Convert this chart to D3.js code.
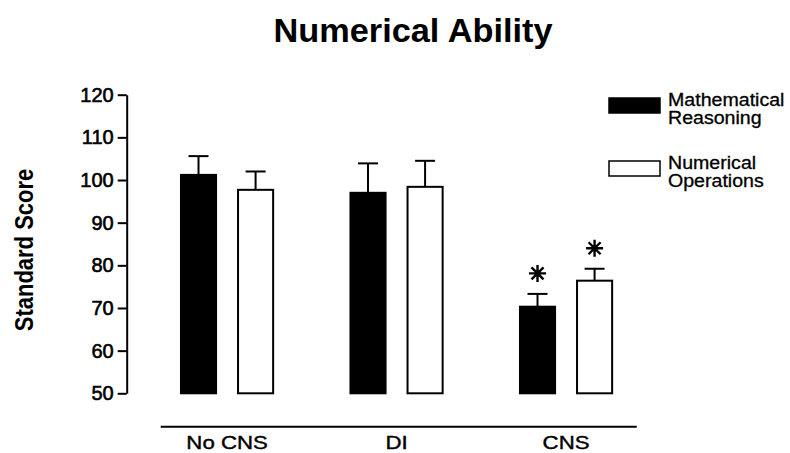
<!DOCTYPE html>
<html>
<head>
<meta charset="utf-8">
<script src="https://cdn.jsdelivr.net/npm/d3@7"></script>
<style>
  html, body { margin: 0; padding: 0; background: #fff; }
  svg { display: block; }
  text { font-family: "Liberation Sans", Arial, Helvetica, sans-serif; fill: #000; }
</style>
</head>
<body>
<svg id="chart" width="790" height="453"></svg>
<script>
// Groups along the x axis and the two measured scores
const groups = ["No CNS", "DI", "CNS"];
const seriesNames = ["Mathematical Reasoning", "Numerical Operations"];
const legendLines = [["Mathematical", "Reasoning"], ["Numerical", "Operations"]];

// Mean standard scores and standard errors per group
const mathMeans = [101.2, 97.0, 70.3];
const mathSE = [4.4, 6.9, 3.0];
const numMeans = [97.7, 98.4, 76.4];
const numSE = [4.3, 6.1, 2.8];

// Significant differences flagged with an asterisk
const mathSig = [false, false, true];
const numSig = [false, false, true];

const yTicks = [50, 60, 70, 80, 90, 100, 110, 120];
const yDomain = [50, 120];

const fills = ["#000", "#fff"];

const rows = [];
groups.forEach((g, i) => {
  rows.push({ group: g, series: seriesNames[0], mean: mathMeans[i], se: mathSE[i], sig: mathSig[i] });
  rows.push({ group: g, series: seriesNames[1], mean: numMeans[i], se: numSE[i], sig: numSig[i] });
});

const svg = d3.select("#chart");

const y = d3.scaleLinear().domain(yDomain).range([393.3, 94.7]);
const x0 = d3.scaleBand().domain(groups).range([142.3, 650.8]).paddingInner(0).paddingOuter(0);
const x1 = d3.scaleBand().domain(seriesNames).range([0, x0.bandwidth()])
  .paddingInner(0.35).paddingOuter(0.66);
const color = d3.scaleOrdinal().domain(seriesNames).range(fills);

// Title
svg.append("text")
  .attr("transform", "translate(413,41.5) scale(1.04,1)")
  .attr("text-anchor", "middle")
  .style("font-size", "33px").style("font-weight", "bold")
  .text("Numerical Ability");

// Y axis title
svg.append("text")
  .attr("transform", "translate(33,250) scale(1.2,1) rotate(-90)")
  .attr("text-anchor", "middle")
  .style("font-size", "22px").style("font-weight", "bold")
  .text("Standard Score");

// Y axis
const yAxis = svg.append("g")
  .attr("transform", "translate(126.7,0)")
  .call(d3.axisLeft(y).tickValues(yTicks).tickSize(9).tickSizeOuter(0).tickPadding(4));
yAxis.select(".domain").attr("stroke", "#000").attr("stroke-width", 2);
yAxis.selectAll(".tick line").attr("stroke", "#000").attr("stroke-width", 2);
yAxis.selectAll(".tick text")
  .style("font-size", "20px")
  .style("font-family", "'Liberation Sans', Arial, sans-serif")
  .attr("fill", "#000")
  .attr("stroke", "#000").attr("stroke-width", 0.6);

// X axis baseline and group labels
svg.append("line")
  .attr("x1", 160.7).attr("x2", 636.7)
  .attr("y1", 426.7).attr("y2", 426.7)
  .attr("stroke", "#000").attr("stroke-width", 2);

svg.append("g").selectAll("text")
  .data(groups).join("text")
  .attr("transform", d => `translate(${x0(d) + x0.bandwidth() / 2},448.5) scale(1.2,1)`)
  .attr("text-anchor", "middle")
  .style("font-size", "18.5px")
  .attr("stroke", "#000").attr("stroke-width", 0.4)
  .text(d => d);

// Bars
const bx = d => x0(d.group) + x1(d.series);
const bars = svg.append("g");
bars.selectAll("rect")
  .data(rows).join("rect")
  .attr("x", d => bx(d) + 1)
  .attr("width", x1.bandwidth() - 2)
  .attr("y", d => y(d.mean))
  .attr("height", d => y(yDomain[0]) - y(d.mean))
  .attr("fill", d => color(d.series))
  .attr("stroke", "#000").attr("stroke-width", 2);

// Error bars (upper only) with caps
const err = svg.append("g").attr("stroke", "#000").attr("stroke-width", 2);
err.selectAll("line.stem")
  .data(rows).join("line").attr("class", "stem")
  .attr("x1", d => bx(d) + x1.bandwidth() / 2)
  .attr("x2", d => bx(d) + x1.bandwidth() / 2)
  .attr("y1", d => y(d.mean))
  .attr("y2", d => y(d.mean + d.se));
err.selectAll("line.cap")
  .data(rows).join("line").attr("class", "cap")
  .attr("x1", d => bx(d) + x1.bandwidth() / 2 - 10)
  .attr("x2", d => bx(d) + x1.bandwidth() / 2 + 10)
  .attr("y1", d => y(d.mean + d.se))
  .attr("y2", d => y(d.mean + d.se));

// Significance asterisks: eight-armed star above the error cap
const star = (r) => {
  const p = d3.path();
  for (let k = 0; k < 4; k++) {
    const a = k * Math.PI / 4;
    p.moveTo(-r * Math.cos(a), -r * Math.sin(a));
    p.lineTo(r * Math.cos(a), r * Math.sin(a));
  }
  return p.toString();
};
svg.append("g").selectAll("path")
  .data(rows.filter(d => d.sig)).join("path")
  .attr("transform", d => `translate(${bx(d) + x1.bandwidth() / 2},${y(d.mean + d.se) - 20.5})`)
  .attr("d", star(8.5))
  .attr("fill", "none").attr("stroke", "#000").attr("stroke-width", 2.4);

// Legend
const legend = svg.append("g");
const legendTop = [98, 161];
seriesNames.forEach((s, i) => {
  legend.append("rect")
    .attr("x", 609).attr("y", legendTop[i])
    .attr("width", 51).attr("height", 15)
    .attr("fill", color(s)).attr("stroke", "#000").attr("stroke-width", 1.5);
  legendLines[i].forEach((t, j) => {
    legend.append("text")
      .attr("transform", `translate(668,${legendTop[i] + 7.5 + j * 18}) scale(1.12,1)`)
      .style("font-size", "17.5px")
      .attr("stroke", "#000").attr("stroke-width", 0.3)
      .text(t);
  });
});
</script>
</body>
</html>
